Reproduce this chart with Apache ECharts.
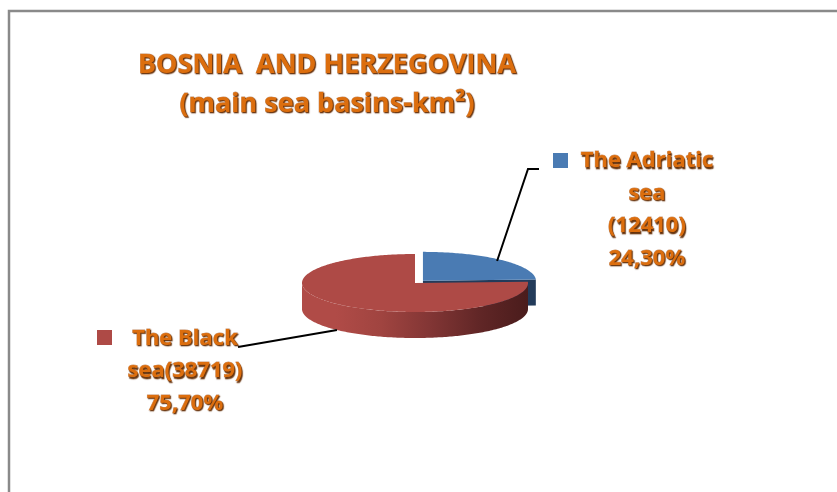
<!DOCTYPE html>
<html><head><meta charset="utf-8">
<script src="https://cdn.jsdelivr.net/npm/echarts@6/dist/echarts.min.js"></script>
<style>html,body{margin:0;padding:0;background:#fff}#c{width:837px;height:492px}</style>
</head><body><div id="c"></div>
<script>
// ---- data ----
const titleLines = ['BOSNIA  AND HERZEGOVINA', '(main sea basins-km\u00B2)'];
const categories = ['The Adriatic sea', 'The Black sea'];
const values = [12410, 38719];
const percentLabels = ['24,30%', '75,70%'];
const labelTexts = [
  ['The Adriatic', 'sea', '(' + values[0] + ')', percentLabels[0]],
  ['The Black', 'sea(' + values[1] + ')', percentLabels[1]]
];

// ---- style ----
const topColors = ['#4a7bb3', '#ae4a46'];
const cutColors = ['#233b5a', '#5a2222'];
const sideStops = [
  [[0, '#2f5079'], [1, '#1d314b']],
  [[0, '#b04b47'], [0.15, '#b04b47'], [0.35, '#a04440'], [0.56, '#833635'], [0.79, '#602626'], [1, '#4a1c1c']]
];
const explode = [11.5, 0];
const textColor = '#dc6e0e';
const textFx = { fill: textColor, stroke: 'rgba(160,70,0,0.55)', lineWidth: 0.8,
  textShadowColor: 'rgba(95,40,0,0.95)', textShadowBlur: 1, textShadowOffsetX: 1, textShadowOffsetY: 1.8 };
const textFont = 'bold 22px "Open Sans"';
const labelLayout = [
  { mx: 553, my: 153, tx: 647, ty: 144.5, line: [[539, 169], [528, 169]], anchorR: 0.95, anchorDown: 0 },
  { mx: 97, my: 330, tx: 185, ty: 322, line: [[238, 347]], anchorR: 1, anchorDown: 1 }
];

const total = values.reduce((a, b) => a + b, 0);
const cx = 415, cy = 283, rx = 113, ry = 29, h = 26;
const rad = d => d * Math.PI / 180;

function renderItem(params, api) {
  const i = params.dataIndex;
  let before = 0;
  for (let k = 0; k < i; k++) before += values[k];
  const a0 = 90 - before / total * 360;
  const a1 = 90 - (before + values[i]) / total * 360;
  const mid = (a0 + a1) / 2;
  const dx = explode[i] * Math.cos(rad(mid));
  const dy = -explode[i] * Math.sin(rad(mid)) * ry / rx;
  const P = (a, r, down) => [cx + dx + rx * r * Math.cos(rad(a)), cy + dy - ry * r * Math.sin(rad(a)) + (down || 0)];
  const children = [];
  const base = i * 3;

  if (Math.sin(rad(a1 - 90)) < -0.01) {
    const c = P(0, 0), r = P(a1, 1);
    children.push({ type: 'polygon', z2: base + 1,
      shape: { points: [c, r, [r[0], r[1] + h], [c[0], c[1] + h]] },
      style: { fill: cutColors[i] } });
  }
  const lo = Math.max(a1, -180), hi = Math.min(a0, 0);
  if (hi > lo) {
    const pts = [];
    for (let a = hi; a >= lo; a -= 1) pts.push(P(a, 1));
    pts.push(P(lo, 1));
    const bottom = [];
    for (let a = lo; a <= hi; a += 1) bottom.push(P(a, 1, h));
    bottom.push(P(hi, 1, h));
    const x0 = P(lo, 1)[0], x1 = P(hi, 1)[0];
    children.push({ type: 'polygon', z2: base + 2,
      shape: { points: pts.concat(bottom) },
      style: { fill: { type: 'linear', global: true, x: Math.min(x0, x1), y: 0, x2: Math.max(x0, x1), y2: 0,
        colorStops: sideStops[i].map(s => ({ offset: s[0], color: s[1] })) } } });
  }
  const topPts = [P(0, 0)];
  for (let a = a0; a > a1; a -= 1) topPts.push(P(a, 1));
  topPts.push(P(a1, 1));
  children.push({ type: 'polygon', z2: base + 3, shape: { points: topPts }, style: { fill: topColors[i] } });

  const L = labelLayout[i];
  const anchor = P(mid, L.anchorR, L.anchorDown ? h : 0);
  children.push({ type: 'polyline', z2: 20, shape: { points: L.line.concat([anchor]) },
    style: { stroke: '#000', lineWidth: 2, fill: null } });
  children.push({ type: 'rect', z2: 20, shape: { x: L.mx, y: L.my, width: 15, height: 15 },
    style: { fill: topColors[i] } });
  children.push({ type: 'text', z2: 21, x: L.tx, y: L.ty,
    style: Object.assign({ text: labelTexts[i].join('\n'), font: textFont, align: 'center', verticalAlign: 'top',
      lineHeight: 32.5 }, textFx) });
  return { type: 'group', children };
}

const chart = echarts.init(document.getElementById('c'), null, { renderer: 'canvas' });
chart.setOption({
  animation: false,
  backgroundColor: '#fff',
  graphic: [
    { type: 'rect', shape: { x: 9, y: 11, width: 900, height: 600 }, style: { fill: null, stroke: '#8a8a8a', lineWidth: 2.5 }, silent: true },
    { type: 'text', x: 327, y: 45.5, silent: true,
      style: Object.assign({ text: titleLines.join('\n'), font: 'bold 27px "Open Sans"', align: 'center', verticalAlign: 'top',
        lineHeight: 39 }, textFx) }
  ],
  series: [{
    type: 'custom', coordinateSystem: 'none', silent: true,
    data: values.map((v, i) => ({ value: v, name: categories[i] })),
    renderItem
  }]
});
</script></body></html>
